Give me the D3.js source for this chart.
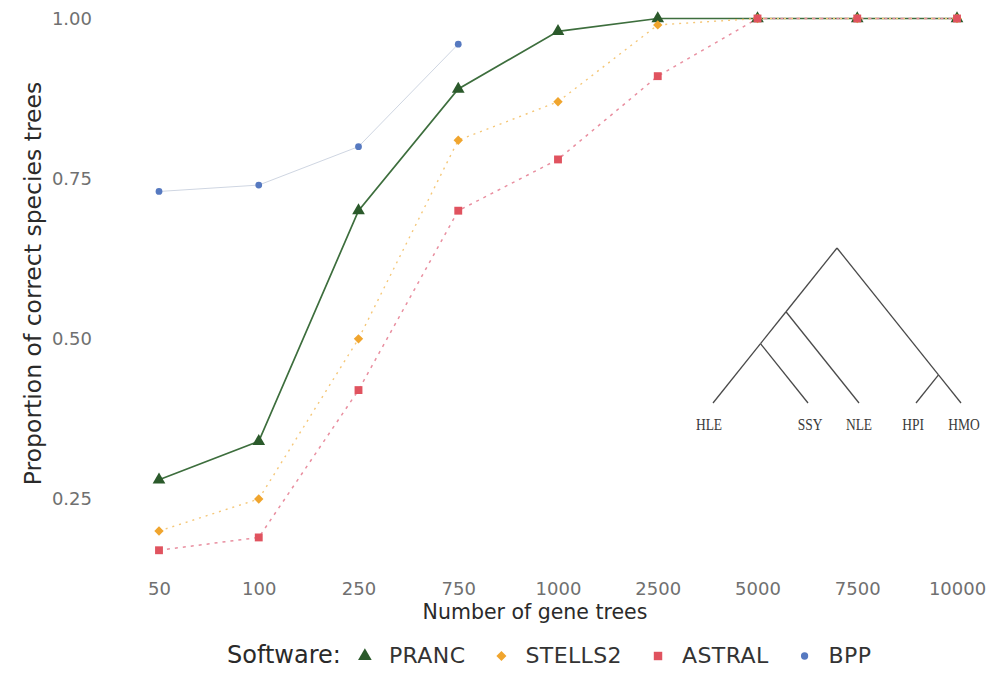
<!DOCTYPE html>
<html>
<head>
<meta charset="utf-8">
<script src="https://cdn.jsdelivr.net/npm/d3@7"></script>
<style>
  html, body { margin: 0; padding: 0; background: #fff; }
  svg { display: block; }
  text { font-family: "DejaVu Sans", "Liberation Sans", Arial, sans-serif; }
</style>
</head>
<body>
<svg id="chart" width="1002" height="673"></svg>
<script>
// ---------------- data ----------------
const geneTrees = ["50", "100", "250", "750", "1000", "2500", "5000", "7500", "10000"];
const yTicks = [0.25, 0.50, 0.75, 1.00];
const software = ["PRANC", "STELLS2", "ASTRAL", "BPP"];
const pranc   = [0.28, 0.34, 0.70, 0.89, 0.98, 1.00, 1.00, 1.00, 1.00];
const stells2 = [0.20, 0.25, 0.50, 0.81, 0.87, 0.99, 1.00, 1.00, 1.00];
const astral  = [0.17, 0.19, 0.42, 0.70, 0.78, 0.91, 1.00, 1.00, 1.00];
const bpp     = [0.73, 0.74, 0.80, 0.96];
const treeLeaves = ["HLE", "SSY", "NLE", "HPI", "HMO"];
// cladogram: (((HLE,SSY),NLE),(HPI,HMO))
const treeTopology = { children: [
  { children: [ { children: [ { name: "HLE" }, { name: "SSY" } ] }, { name: "NLE" } ] },
  { children: [ { name: "HPI" }, { name: "HMO" } ] }
]};

// ---------------- layout / style ----------------
const svg = d3.select("#chart");
const x = d3.scalePoint().domain(geneTrees).range([159, 957]);
const y = d3.scaleLinear().domain([0.25, 1.0]).range([499, 18.5]);

// square diamond (ggplot shape 18)
const symbolSqDiamond = { draw(ctx, size) {
  const r = Math.sqrt(size / 2);
  ctx.moveTo(0, -r); ctx.lineTo(r, 0); ctx.lineTo(0, r); ctx.lineTo(-r, 0); ctx.closePath();
}};

const styles = {
  PRANC:   { line: "#3d6e3d", width: 1.7, dash: null,  fill: "#2b5a2b", shape: d3.symbolTriangle, size: 70 },
  STELLS2: { line: "#f5c778", width: 1.4, dash: "2,5", fill: "#f0a52e", shape: symbolSqDiamond,  size: 44 },
  ASTRAL:  { line: "#e98fa0", width: 1.5, dash: "3,5", fill: "#e0535f", shape: d3.symbolSquare,   size: 62 },
  BPP:     { line: "#cfd6e2", width: 1.0, dash: null,  fill: "#5679c0", shape: d3.symbolCircle,   size: 36 }
};
const seriesData = { PRANC: pranc, STELLS2: stells2, ASTRAL: astral, BPP: bpp };

// y axis
const yAxis = d3.axisLeft(y).tickValues(yTicks).tickFormat(d3.format(".2f")).tickSize(0).tickPadding(0);
const gy = svg.append("g").attr("transform", "translate(92,0)").call(yAxis);
gy.select(".domain").remove();
gy.selectAll("text").attr("fill", "#707070").style("font-size", "18px")
  .style("font-family", "'DejaVu Sans', sans-serif");

// x axis
const xAxis = d3.axisBottom(x).tickSize(0).tickPadding(0);
const gx = svg.append("g").attr("transform", "translate(0,582)").call(xAxis);
gx.select(".domain").remove();
gx.selectAll("text").attr("fill", "#707070").style("font-size", "18px")
  .style("font-family", "'DejaVu Sans', sans-serif");

// axis titles
svg.append("text").attr("x", 535).attr("y", 619).attr("text-anchor", "middle")
  .attr("fill", "#2a2a2a").style("font-size", "20.5px").text("Number of gene trees");
svg.append("text").attr("transform", "translate(41,283.5) rotate(-90)").attr("text-anchor", "middle")
  .attr("fill", "#2a2a2a").style("font-size", "23.5px").text("Proportion of correct species trees");

// lines & points
const line = d3.line().x((d, i) => x(geneTrees[i])).y(d => y(d));
software.forEach(s => {
  const st = styles[s];
  svg.append("path").datum(seriesData[s])
    .attr("d", line).attr("fill", "none")
    .attr("stroke", st.line).attr("stroke-width", st.width)
    .attr("stroke-dasharray", st.dash);
});
software.forEach(s => {
  const st = styles[s];
  svg.append("g").selectAll("path").data(seriesData[s]).join("path")
    .attr("transform", (d, i) => `translate(${x(geneTrees[i])},${y(d)})`)
    .attr("d", d3.symbol().type(st.shape).size(st.size))
    .attr("fill", st.fill);
});

// phylogenetic tree inset
const leafX = { HLE: 713, SSY: 808, NLE: 859, HPI: 916, HMO: 961 };
const labelX = { HLE: 709, SSY: 810, NLE: 859, HPI: 913, HMO: 964 };
const leafY = 403, slope = 1.25;
const root = d3.hierarchy(treeTopology);
root.eachAfter(n => {
  if (!n.children) { n.px = leafX[n.data.name]; n.py = leafY; n.lo = n.px; n.hi = n.px; }
  else {
    n.lo = d3.min(n.children, c => c.lo); n.hi = d3.max(n.children, c => c.hi);
    n.px = (n.lo + n.hi) / 2; n.py = leafY - (n.hi - n.lo) / 2 * slope;
  }
});
const tree = svg.append("g");
tree.selectAll("line").data(root.links()).join("line")
  .attr("x1", d => d.source.px).attr("y1", d => d.source.py)
  .attr("x2", d => d.target.px).attr("y2", d => d.target.py)
  .attr("stroke", "#4a4a4a").attr("stroke-width", 1.3);
tree.selectAll("text").data(root.leaves()).join("text")
  .attr("transform", d => `translate(${labelX[d.data.name]},430) scale(1,1.3)`)
  .attr("text-anchor", "middle")
  .style("font-family", "'Liberation Serif', 'Times New Roman', serif")
  .style("font-size", "13.5px").attr("fill", "#3a3a3a").text(d => d.data.name);

// legend
const lg = svg.append("g");
const legendY = 656, legendBase = 663;
let cx = 227;
const title = lg.append("text").attr("x", cx).attr("y", legendBase).attr("fill", "#2a2a2a")
  .style("font-size", "24px").text("Software:");
cx += title.node().getComputedTextLength() + 24;
software.forEach(s => {
  const st = styles[s];
  lg.append("path").attr("transform", `translate(${cx},${legendY})`)
    .attr("d", d3.symbol().type(st.shape).size(st.size * 1.15)).attr("fill", st.fill);
  const t = lg.append("text").attr("x", cx + 24).attr("y", legendBase).attr("fill", "#333")
    .style("font-size", "22px").style("letter-spacing", "0.4px").text(s);
  cx += 24 + t.node().getComputedTextLength() + 36;
});
</script>
</body>
</html>
